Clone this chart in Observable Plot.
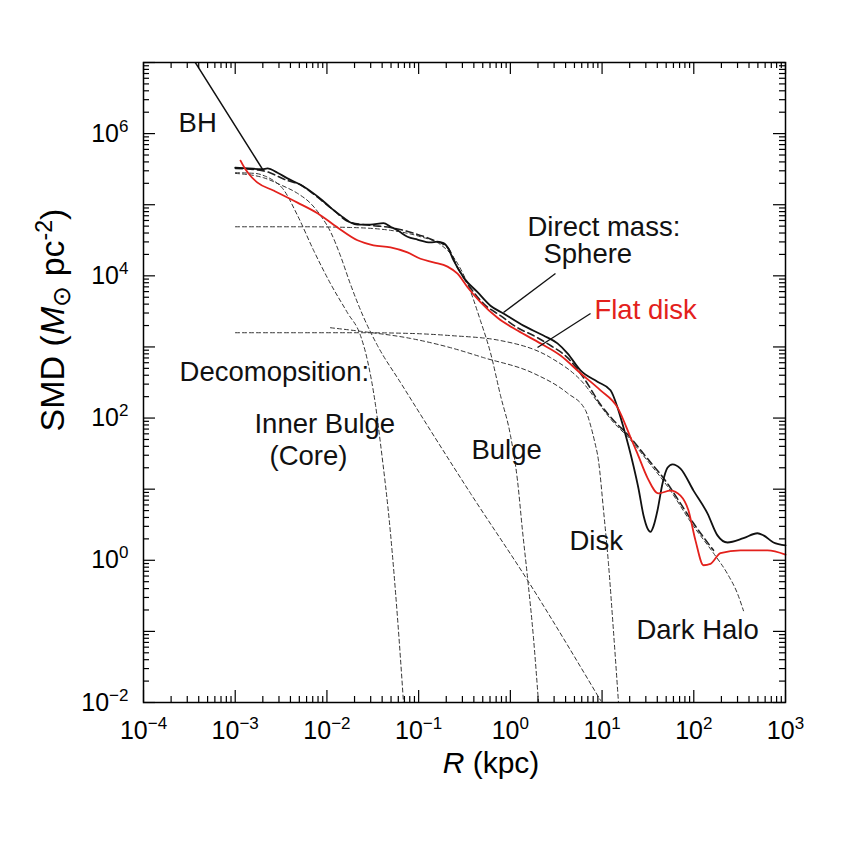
<!DOCTYPE html>
<html><head><meta charset="utf-8">
<script src="https://cdn.jsdelivr.net/npm/d3@7"></script>
<script src="https://cdn.jsdelivr.net/npm/@observablehq/plot@0.6"></script>
<style>
html,body{margin:0;padding:0;background:#fff;}
#chart{width:850px;height:850px;}
</style></head><body><div id="chart"></div>
<script>
// Values, stored as log10(R / kpc) and log10(SMD / Msun pc^-2)
const sphereLogR = [-3.00,-2.855,-2.703,-2.648,-2.539,-2.430,-2.288,-2.157,-2.048,-1.961,-1.852,-1.743,-1.667,-1.525,-1.383,-1.307,-1.231,-1.122,-1.013,-0.871,-0.795,-0.729,-0.675,-0.620,-0.511,-0.358,-0.217,-0.075,0.143,0.361,0.514,0.623,0.765,0.950,1.092,1.168,1.233,1.288,1.342,1.397,1.452,1.495,1.528,1.561,1.604,1.659,1.713,1.768,1.855,1.997,2.149,2.258,2.367,2.542,2.694,2.760,2.869,3.00];
const sphereLogSMD = [5.52,5.51,5.50,5.51,5.45,5.37,5.28,5.17,5.06,4.96,4.85,4.75,4.72,4.72,4.74,4.69,4.64,4.55,4.51,4.47,4.48,4.46,4.38,4.22,3.98,3.77,3.58,3.47,3.30,3.16,3.05,2.91,2.67,2.51,2.39,2.15,1.87,1.61,1.33,1.01,0.63,0.45,0.40,0.48,0.70,1.08,1.30,1.35,1.29,0.98,0.66,0.35,0.25,0.31,0.38,0.35,0.25,0.21];

const flatDiskLogR = [-2.942,-2.899,-2.855,-2.757,-2.583,-2.321,-2.103,-1.885,-1.667,-1.492,-1.307,-1.122,-0.980,-0.838,-0.685,-0.576,-0.467,-0.326,-0.140,0.078,0.329,0.547,0.765,0.983,1.168,1.310,1.386,1.495,1.615,1.746,1.855,1.942,2.018,2.106,2.182,2.291,2.509,2.804,3.00];
const flatDiskLogSMD = [5.62,5.52,5.44,5.31,5.20,5.03,4.88,4.68,4.50,4.43,4.40,4.33,4.24,4.19,4.13,4.03,3.84,3.63,3.41,3.23,3.05,2.88,2.63,2.39,2.15,1.73,1.50,1.16,0.94,0.98,0.91,0.70,0.28,-0.07,-0.05,0.10,0.14,0.14,0.08];

const bhLogR = [-3.45,-2.703];
const bhLogSMD = [7.03,5.50];

const totalLogR = [-2.997,-2.703,-2.430,-2.288,-2.157,-1.961,-1.743,-1.525,-1.307,-1.056,-0.838,-0.685,-0.576,-0.467,-0.293,-0.108,0.078,0.252,0.438,0.623,0.797,0.983,1.124,1.277,1.495,1.713,1.855,1.997,2.215];
const totalLogSMD = [5.51,5.48,5.34,5.28,5.16,4.96,4.75,4.71,4.68,4.60,4.50,4.40,4.12,3.89,3.61,3.44,3.27,3.16,3.02,2.85,2.57,2.19,1.97,1.77,1.43,1.08,0.80,0.52,0.14];

const coreLogR = [-2.997,-2.779,-2.670,-2.583,-2.484,-2.321,-2.146,-1.961,-1.776,-1.634,-1.558,-1.470,-1.416,-1.307,-1.231,-1.165];
const coreLogSMD = [5.45,5.44,5.40,5.34,5.23,4.85,4.36,3.89,3.48,3.16,2.81,2.18,1.64,0.38,-0.80,-2.00];

const innerBulgeLogR = [-2.997,-2.692,-2.506,-2.321,-2.179,-2.070,-1.961,-1.852,-1.743,-1.601,-1.449,-1.198,-0.434,0.187,0.983];
const innerBulgeLogSMD = [5.44,5.38,5.28,5.16,5.02,4.85,4.62,4.28,3.88,3.42,3.02,2.50,0.94,-0.28,-1.97];

const bulgeLogR = [-2.997,-2.288,-1.743,-1.307,-0.980,-0.762,-0.598,-0.467,-0.326,-0.217,-0.108,0.002,0.078,0.132,0.187,0.252,0.307];
const bulgeLogSMD = [4.69,4.69,4.68,4.64,4.55,4.44,4.22,3.89,3.37,2.92,2.32,1.75,1.12,0.42,-0.24,-1.09,-2.00];

const diskLogR = [-1.961,-1.634,-1.089,-0.653,-0.293,0.252,0.623,0.819,0.874,0.917,0.961,1.016,1.070,1.124,1.179];
const diskLogSMD = [3.27,3.22,3.12,2.99,2.85,2.63,2.35,2.11,1.90,1.68,1.40,0.70,-0.05,-0.99,-2.00];

const haloLogR = [-2.997,-2.288,-1.634,-1.089,-0.653,-0.108,0.438,0.797,0.983,1.124,1.277,1.495,1.713,1.997,2.215,2.367,2.477,2.542];
const haloLogSMD = [3.20,3.20,3.20,3.19,3.16,3.09,2.85,2.49,2.17,1.94,1.74,1.40,1.04,0.48,0.10,-0.19,-0.47,-0.71];

const xTickExponents = [-4,-3,-2,-1,0,1,2,3];
const yTickExponents = [-2,-1,0,1,2,3,4,5,6,7];
const yLabelExponents = [-2,0,2,4,6];

const labelsBlack = [
  {text:"BH", lr:-3.618, ls:6.016},
  {text:"Direct mass:", lr:0.187, ls:4.567},
  {text:"Sphere", lr:0.361, ls:4.174},
  {text:"Decomopsition:", lr:-3.607, ls:2.528},
  {text:"Inner Bulge", lr:-2.790, ls:1.783},
  {text:"(Core)", lr:-2.626, ls:1.333},
  {text:"Bulge", lr:-0.424, ls:1.431},
  {text:"Disk", lr:0.645, ls:0.138},
  {text:"Dark Halo", lr:1.375, ls:-1.100}
];
const labelsRed = [{text:"Flat disk", lr:0.917, ls:3.400}];
const leaders = [
  {lr1:0.492, ls1:4.033, lr2:-0.075, ls2:3.484},
  {lr1:0.874, ls1:3.470, lr2:0.296, ls2:2.992}
];

const rows = (lr, ls) => lr.map((r, i) => ({R: 10 ** r, S: 10 ** ls[i]}));

const W = 850, H = 850, mL = 143, mR = 65, mT = 62, mB = 148;
const pw = W - mL - mR, ph = H - mT - mB;
const xDomain = [1e-4, 1e3], yDomain = [1e-2, 1e7];

const xMajor = xTickExponents.map(e => 10 ** e);
const yMajor = yTickExponents.map(e => 10 ** e);
const isPow10 = v => Math.abs(Math.log10(v) - Math.round(Math.log10(v))) < 1e-9;
const xMinor = d3.scaleLog().domain(xDomain).ticks().filter(v => !isPow10(v));
const yMinor = d3.scaleLog().domain(yDomain).ticks().filter(v => !isPow10(v));

const dashThin = {x: "R", y: "S", stroke: "#333", strokeWidth: 1, strokeDasharray: "4,3", curve: "monotone-x"};
const tickStyle = {stroke: "#000", strokeWidth: 1.2};

const plot = Plot.plot({
  width: W, height: H,
  marginLeft: mL, marginRight: mR, marginTop: mT, marginBottom: mB,
  style: {fontFamily: "'Liberation Sans', Arial, Helvetica, sans-serif", fontSize: "24px", background: "#fff", color: "#000"},
  x: {type: "log", domain: xDomain, axis: null},
  y: {type: "log", domain: yDomain, axis: null},
  marks: [
    Plot.line(rows(coreLogR, coreLogSMD), dashThin),
    Plot.line(rows(innerBulgeLogR, innerBulgeLogSMD), dashThin),
    Plot.line(rows(bulgeLogR, bulgeLogSMD), dashThin),
    Plot.line(rows(diskLogR, diskLogSMD), dashThin),
    Plot.line(rows(haloLogR, haloLogSMD), dashThin),
    Plot.line(rows(totalLogR, totalLogSMD), {x: "R", y: "S", stroke: "#222", strokeWidth: 1.6, strokeDasharray: "7,4", curve: "monotone-x"}),
    Plot.line(rows(sphereLogR, sphereLogSMD), {x: "R", y: "S", stroke: "#111", strokeWidth: 1.8, curve: "monotone-x"}),
    Plot.line(rows(flatDiskLogR, flatDiskLogSMD), {x: "R", y: "S", stroke: "#e3211c", strokeWidth: 1.8, curve: "monotone-x"}),
    Plot.line(rows(bhLogR, bhLogSMD), {x: "R", y: "S", stroke: "#111", strokeWidth: 1.5, clip: true}),
    Plot.link(leaders, {x1: d => 10 ** d.lr1, y1: d => 10 ** d.ls1, x2: d => 10 ** d.lr2, y2: d => 10 ** d.ls2, stroke: "#111", strokeWidth: 1.3}),
    Plot.text(labelsBlack, {x: d => 10 ** d.lr, y: d => 10 ** d.ls, text: "text", textAnchor: "start", lineAnchor: "bottom", fontSize: 27.5, fill: "#111"}),
    Plot.text(labelsRed, {x: d => 10 ** d.lr, y: d => 10 ** d.ls, text: "text", textAnchor: "start", lineAnchor: "bottom", fontSize: 27.5, fill: "#e3211c"}),
    // inward ticks on all four sides
    Plot.tickX(xMajor, {x: d => d, insetTop: ph - 12, ...tickStyle}),
    Plot.tickX(xMajor, {x: d => d, insetBottom: ph - 12, ...tickStyle}),
    Plot.tickX(xMinor, {x: d => d, insetTop: ph - 6, ...tickStyle}),
    Plot.tickX(xMinor, {x: d => d, insetBottom: ph - 6, ...tickStyle}),
    Plot.tickY(yMajor, {y: d => d, insetRight: pw - 12, ...tickStyle}),
    Plot.tickY(yMajor, {y: d => d, insetLeft: pw - 12, ...tickStyle}),
    Plot.tickY(yMinor, {y: d => d, insetRight: pw - 6, ...tickStyle}),
    Plot.tickY(yMinor, {y: d => d, insetLeft: pw - 6, ...tickStyle}),
    Plot.axisX(xMajor, {anchor: "bottom", tickSize: 0, tickPadding: 19, fontSize: 25, label: null,
      tickFormat: d => "10^" + Math.round(Math.log10(d))}),
    Plot.axisY(yLabelExponents.map(e => 10 ** e), {anchor: "left", tickSize: 0, tickPadding: 15, fontSize: 25, label: null,
      tickFormat: d => "10^" + Math.round(Math.log10(d))}),
    Plot.frame({stroke: "#000", strokeWidth: 1.5})
  ]
});

const svg = d3.select(plot);
svg.selectAll("text").each(function () {
  const m = /^10\^(-?\d+)$/.exec(this.textContent);
  if (!m) return;
  const t = d3.select(this);
  t.text(null).attr("font-size", 25).style("font-size", "25px");
  t.append("tspan").style("font-size", "25px").text("10");
  t.append("tspan").style("font-size", "17px").attr("dy", -10).text(m[1].replace("-", "\u2212"));
});

// axis titles
const xt = svg.append("text").attr("x", mL + pw / 2 + 27).attr("y", H - 77)
  .attr("text-anchor", "middle").style("font-size", "30px").attr("fill", "#000");
xt.append("tspan").attr("font-style", "italic").text("R");
xt.append("tspan").text(" (kpc)");

const yt = svg.append("text").attr("transform", `translate(64,${mT + ph / 2 - 62}) rotate(-90)`)
  .attr("text-anchor", "middle").style("font-size", "34px").attr("fill", "#000");
yt.append("tspan").text("SMD (");
yt.append("tspan").attr("font-style", "italic").text("M");
yt.append("tspan").style("font-size", "25px").attr("dy", 6).text("\u2299");
yt.append("tspan").attr("dy", -6).text(" pc");
yt.append("tspan").style("font-size", "23px").attr("dy", -12).text("-2");
yt.append("tspan").attr("dy", 12).text(")");

document.getElementById("chart").appendChild(plot);
</script>
</body></html>
